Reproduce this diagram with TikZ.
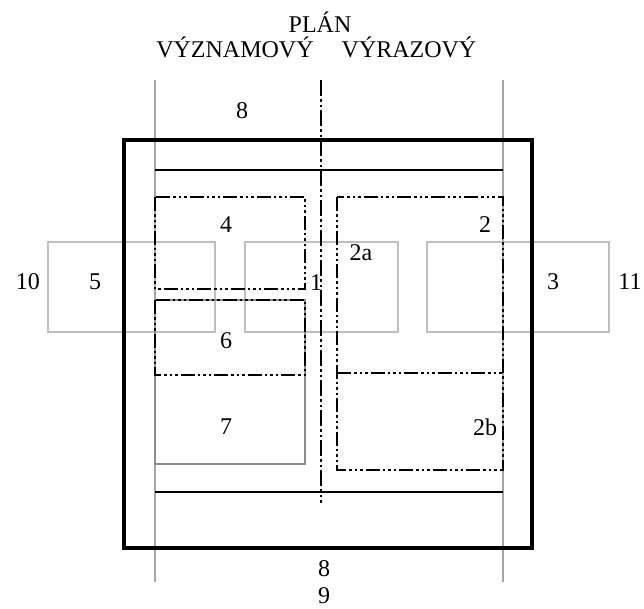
\documentclass[tikz,border=0pt]{standalone}
\usepackage{fontspec}
\setmainfont{Liberation Serif}
\begin{document}
\begin{tikzpicture}[x=1pt,y=-1pt,
  lbl/.style={inner sep=0pt,font=\fontsize{24}{28}\selectfont},
  guide/.style={draw=black!35,line width=1.2pt},
  rowbox/.style={draw=black!25,line width=1.3pt},
  greybox/.style={draw=black!45,line width=1.2pt},
  frame/.style={draw=black,line width=3.5pt},
  bar/.style={draw=black,line width=2.5pt},
  dd/.style={draw=black,line width=1.8pt,dash pattern={on 14pt off 3pt on 2.5pt off 3pt on 2.5pt off 3pt on 2.5pt off 3pt}},
  axis/.style={draw=black,line width=1.5pt,dash pattern={on 16pt off 3pt on 2.5pt off 3pt on 2.5pt off 3pt}}]
\useasboundingbox (0,0) rectangle (644,608);
% guides
\draw[guide] (155,80) -- (155,582);
\draw[guide] (503,80) -- (503,582);
% row of grey boxes
\draw[rowbox] (48,242) rectangle (215,332);
\draw[rowbox] (245,242) rectangle (398,332);
\draw[rowbox] (427,242) rectangle (609,332);
% box 7
\draw[greybox] (155,300) rectangle (305,464);
% outer frame
\draw[frame] (124,140) rectangle (532,548);
% bars
\draw[bar] (155,170) -- (503,170);
\draw[bar] (155,492) -- (503,492);
% central axis
\coordinate (axT) at (321,80);
\coordinate (axB) at (321,503);
\draw[axis] (axT) -- (axB);
% dash-dot boxes
\draw[dd] (155,197) rectangle (305,289);
\draw[dd] (155,300) rectangle (305,375);
\draw[dd] (337,197) rectangle (503,470);
\draw[dd] (337,373) -- (503,373);
% labels
\node[lbl] (plan) at (320,22) {PLÁN};
\node[lbl] (vyz) at (235,47) {VÝZNAMOVÝ};
\node[lbl] (vyr) at (409,47) {VÝRAZOVÝ};
\node[lbl] (l8t) at (242,111) {8};
\node[lbl] (l4) at (226,225) {4};
\node[lbl] (l2) at (485,225) {2};
\node[lbl] (l2a) at (361,253) {2a};
\node[lbl] (l10) at (28,282) {10};
\node[lbl] (l5) at (95,282) {5};
\node[lbl] (l1) at (316,283) {1};
\node[lbl] (l3) at (553,282) {3};
\node[lbl] (l11) at (630,282) {11};
\node[lbl] (l6) at (226,341) {6};
\node[lbl] (l7) at (226,427) {7};
\node[lbl] (l2b) at (485,427) {2b};
\node[lbl] (l8b) at (324,569) {8};
\node[lbl] (l9) at (324,596) {9};
\end{tikzpicture}
\end{document}
